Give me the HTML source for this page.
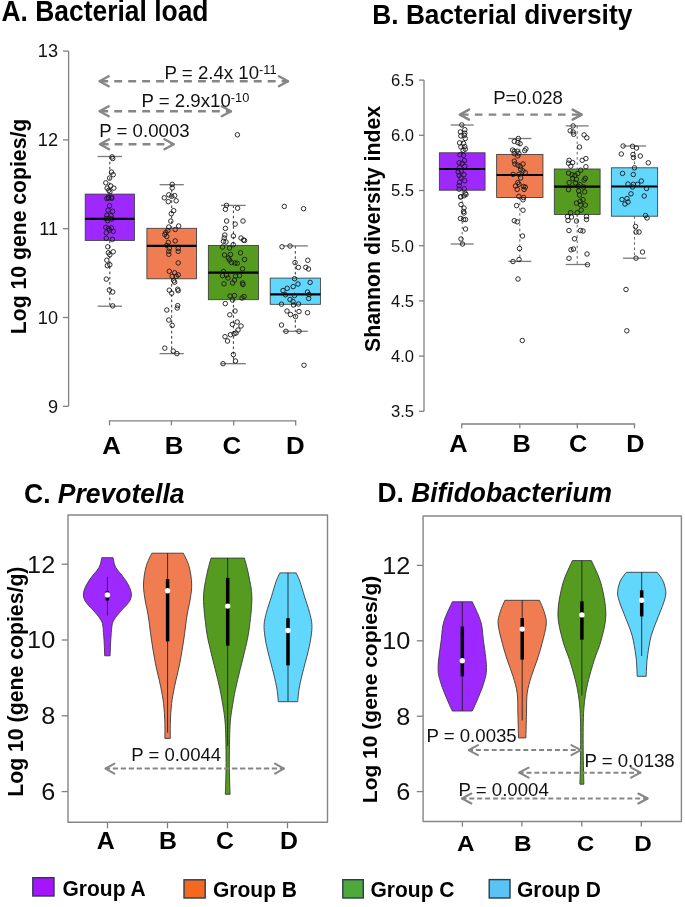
<!DOCTYPE html><html><head><meta charset="utf-8"><style>html,body{margin:0;padding:0;background:#fff;}svg{display:block;will-change:transform;}</style></head><body>
<svg width="685" height="907" viewBox="0 0 685 907" font-family='"Liberation Sans", sans-serif'>
<rect width="685" height="907" fill="#fff"/>
<text transform="translate(1.5,20.7) scale(1,1.08)" font-size="26.5" font-weight="bold" fill="#000" textLength="207" lengthAdjust="spacingAndGlyphs">A. Bacterial load</text>
<line x1="68.6" y1="51.1" x2="68.6" y2="406.3" stroke="#808080" stroke-width="1.3"/>
<line x1="63" y1="51.1" x2="68.6" y2="51.1" stroke="#808080" stroke-width="1.3"/>
<text transform="translate(58,57.3) scale(1.03,1)" font-size="17.6" font-weight="normal" text-anchor="end" fill="#111">13</text>
<line x1="63" y1="139.9" x2="68.6" y2="139.9" stroke="#808080" stroke-width="1.3"/>
<text transform="translate(58,146.1) scale(1.03,1)" font-size="17.6" font-weight="normal" text-anchor="end" fill="#111">12</text>
<line x1="63" y1="228.7" x2="68.6" y2="228.7" stroke="#808080" stroke-width="1.3"/>
<text transform="translate(58,234.9) scale(1.03,1)" font-size="17.6" font-weight="normal" text-anchor="end" fill="#111">11</text>
<line x1="63" y1="317.5" x2="68.6" y2="317.5" stroke="#808080" stroke-width="1.3"/>
<text transform="translate(58,323.7) scale(1.03,1)" font-size="17.6" font-weight="normal" text-anchor="end" fill="#111">10</text>
<line x1="63" y1="406.3" x2="68.6" y2="406.3" stroke="#808080" stroke-width="1.3"/>
<text transform="translate(58,412.5) scale(1.03,1)" font-size="17.6" font-weight="normal" text-anchor="end" fill="#111">9</text>
<text transform="translate(26,334.2) rotate(-90)" font-size="21.2" font-weight="bold" fill="#000">Log 10 gene copies/g</text>
<line x1="109.5" y1="420.9" x2="295.7" y2="420.9" stroke="#808080" stroke-width="1.3"/>
<line x1="109.5" y1="420.3" x2="109.5" y2="425.4" stroke="#808080" stroke-width="1.3"/>
<line x1="171.4" y1="420.3" x2="171.4" y2="425.4" stroke="#808080" stroke-width="1.3"/>
<line x1="233.7" y1="420.3" x2="233.7" y2="425.4" stroke="#808080" stroke-width="1.3"/>
<line x1="295.7" y1="420.3" x2="295.7" y2="425.4" stroke="#808080" stroke-width="1.3"/>
<text transform="translate(111.5,454.2) scale(1.1,1)" font-size="23.5" font-weight="bold" text-anchor="middle" fill="#000">A</text>
<text transform="translate(174,454.2) scale(1.1,1)" font-size="23.5" font-weight="bold" text-anchor="middle" fill="#000">B</text>
<text transform="translate(231.8,454.2) scale(1.1,1)" font-size="23.5" font-weight="bold" text-anchor="middle" fill="#000">C</text>
<text transform="translate(295.4,454.2) scale(1.1,1)" font-size="23.5" font-weight="bold" text-anchor="middle" fill="#000">D</text>
<line x1="109.8" y1="156.5" x2="109.8" y2="194.1" stroke="#333" stroke-width="1.0" stroke-dasharray="2.6 2.6"/>
<line x1="109.8" y1="240.4" x2="109.8" y2="306.2" stroke="#333" stroke-width="1.0" stroke-dasharray="2.6 2.6"/>
<line x1="97.65" y1="156.5" x2="121.95" y2="156.5" stroke="#7a7a7a" stroke-width="1.3"/>
<line x1="97.65" y1="306.2" x2="121.95" y2="306.2" stroke="#7a7a7a" stroke-width="1.3"/>
<rect x="85.2" y="194.1" width="49.2" height="46.3" fill="#9e29ff" stroke="#3a3a3a" stroke-width="0.85"/>
<line x1="85.2" y1="218.9" x2="134.4" y2="218.9" stroke="#000" stroke-width="2.2"/>
<circle cx="112.1" cy="156.9" r="2.25" fill="none" stroke="#1a1a1a" stroke-width="0.9"/>
<circle cx="112.7" cy="158.5" r="2.25" fill="none" stroke="#1a1a1a" stroke-width="0.9"/>
<circle cx="111.5" cy="172.1" r="2.25" fill="none" stroke="#1a1a1a" stroke-width="0.9"/>
<circle cx="113.2" cy="174.7" r="2.25" fill="none" stroke="#1a1a1a" stroke-width="0.9"/>
<circle cx="109.6" cy="178.1" r="2.25" fill="none" stroke="#1a1a1a" stroke-width="0.9"/>
<circle cx="105.8" cy="182.8" r="2.25" fill="none" stroke="#1a1a1a" stroke-width="0.9"/>
<circle cx="110.7" cy="185.9" r="2.25" fill="none" stroke="#1a1a1a" stroke-width="0.9"/>
<circle cx="113.8" cy="188.1" r="2.25" fill="none" stroke="#1a1a1a" stroke-width="0.9"/>
<circle cx="107.1" cy="188.1" r="2.25" fill="none" stroke="#1a1a1a" stroke-width="0.9"/>
<circle cx="108.8" cy="190.3" r="2.25" fill="none" stroke="#1a1a1a" stroke-width="0.9"/>
<circle cx="109.9" cy="191.9" r="2.25" fill="none" stroke="#1a1a1a" stroke-width="0.9"/>
<circle cx="108.2" cy="197.4" r="2.25" fill="none" stroke="#1a1a1a" stroke-width="0.9"/>
<circle cx="111.5" cy="197.4" r="2.25" fill="none" stroke="#1a1a1a" stroke-width="0.9"/>
<circle cx="106.9" cy="198.6" r="2.25" fill="none" stroke="#1a1a1a" stroke-width="0.9"/>
<circle cx="108.8" cy="198.1" r="2.25" fill="none" stroke="#1a1a1a" stroke-width="0.9"/>
<circle cx="111.8" cy="198.3" r="2.25" fill="none" stroke="#1a1a1a" stroke-width="0.9"/>
<circle cx="109.5" cy="205.8" r="2.25" fill="none" stroke="#1a1a1a" stroke-width="0.9"/>
<circle cx="108" cy="210.2" r="2.25" fill="none" stroke="#1a1a1a" stroke-width="0.9"/>
<circle cx="112.6" cy="211.3" r="2.25" fill="none" stroke="#1a1a1a" stroke-width="0.9"/>
<circle cx="106.9" cy="215.2" r="2.25" fill="none" stroke="#1a1a1a" stroke-width="0.9"/>
<circle cx="111" cy="215.7" r="2.25" fill="none" stroke="#1a1a1a" stroke-width="0.9"/>
<circle cx="106" cy="218.5" r="2.25" fill="none" stroke="#1a1a1a" stroke-width="0.9"/>
<circle cx="109.3" cy="218.5" r="2.25" fill="none" stroke="#1a1a1a" stroke-width="0.9"/>
<circle cx="112.1" cy="219" r="2.25" fill="none" stroke="#1a1a1a" stroke-width="0.9"/>
<circle cx="107.7" cy="220.7" r="2.25" fill="none" stroke="#1a1a1a" stroke-width="0.9"/>
<circle cx="105.8" cy="227.3" r="2.25" fill="none" stroke="#1a1a1a" stroke-width="0.9"/>
<circle cx="108.5" cy="228.4" r="2.25" fill="none" stroke="#1a1a1a" stroke-width="0.9"/>
<circle cx="111.5" cy="227.9" r="2.25" fill="none" stroke="#1a1a1a" stroke-width="0.9"/>
<circle cx="109.6" cy="230.1" r="2.25" fill="none" stroke="#1a1a1a" stroke-width="0.9"/>
<circle cx="113.2" cy="231.4" r="2.25" fill="none" stroke="#1a1a1a" stroke-width="0.9"/>
<circle cx="106.3" cy="232.8" r="2.25" fill="none" stroke="#1a1a1a" stroke-width="0.9"/>
<circle cx="106.3" cy="238.3" r="2.25" fill="none" stroke="#1a1a1a" stroke-width="0.9"/>
<circle cx="112.4" cy="239.4" r="2.25" fill="none" stroke="#1a1a1a" stroke-width="0.9"/>
<circle cx="107.8" cy="246.8" r="2.25" fill="none" stroke="#1a1a1a" stroke-width="0.9"/>
<circle cx="113.2" cy="251.8" r="2.25" fill="none" stroke="#1a1a1a" stroke-width="0.9"/>
<circle cx="109.8" cy="254.8" r="2.25" fill="none" stroke="#1a1a1a" stroke-width="0.9"/>
<circle cx="108.3" cy="252.8" r="2.25" fill="none" stroke="#1a1a1a" stroke-width="0.9"/>
<circle cx="106.8" cy="260.2" r="2.25" fill="none" stroke="#1a1a1a" stroke-width="0.9"/>
<circle cx="107.3" cy="265.7" r="2.25" fill="none" stroke="#1a1a1a" stroke-width="0.9"/>
<circle cx="109.8" cy="264.7" r="2.25" fill="none" stroke="#1a1a1a" stroke-width="0.9"/>
<circle cx="106.3" cy="279.1" r="2.25" fill="none" stroke="#1a1a1a" stroke-width="0.9"/>
<circle cx="109.3" cy="290" r="2.25" fill="none" stroke="#1a1a1a" stroke-width="0.9"/>
<circle cx="112.7" cy="292" r="2.25" fill="none" stroke="#1a1a1a" stroke-width="0.9"/>
<circle cx="112.7" cy="305.9" r="2.25" fill="none" stroke="#1a1a1a" stroke-width="0.9"/>
<line x1="171.7" y1="184.7" x2="171.7" y2="228.3" stroke="#333" stroke-width="1.0" stroke-dasharray="2.6 2.6"/>
<line x1="171.7" y1="278.8" x2="171.7" y2="353.6" stroke="#333" stroke-width="1.0" stroke-dasharray="2.6 2.6"/>
<line x1="159.55" y1="184.7" x2="183.85" y2="184.7" stroke="#7a7a7a" stroke-width="1.3"/>
<line x1="159.55" y1="353.6" x2="183.85" y2="353.6" stroke="#7a7a7a" stroke-width="1.3"/>
<rect x="146.9" y="228.3" width="49.6" height="50.5" fill="#f07d52" stroke="#3a3a3a" stroke-width="0.85"/>
<line x1="146.9" y1="245.9" x2="196.5" y2="245.9" stroke="#000" stroke-width="2.2"/>
<circle cx="172.2" cy="184.4" r="2.25" fill="none" stroke="#1a1a1a" stroke-width="0.9"/>
<circle cx="172.2" cy="187.9" r="2.25" fill="none" stroke="#1a1a1a" stroke-width="0.9"/>
<circle cx="168.8" cy="194.8" r="2.25" fill="none" stroke="#1a1a1a" stroke-width="0.9"/>
<circle cx="164.3" cy="197.8" r="2.25" fill="none" stroke="#1a1a1a" stroke-width="0.9"/>
<circle cx="171.7" cy="196.3" r="2.25" fill="none" stroke="#1a1a1a" stroke-width="0.9"/>
<circle cx="174.7" cy="195.6" r="2.25" fill="none" stroke="#1a1a1a" stroke-width="0.9"/>
<circle cx="168.3" cy="201.7" r="2.25" fill="none" stroke="#1a1a1a" stroke-width="0.9"/>
<circle cx="176.2" cy="200.8" r="2.25" fill="none" stroke="#1a1a1a" stroke-width="0.9"/>
<circle cx="173.7" cy="210.7" r="2.25" fill="none" stroke="#1a1a1a" stroke-width="0.9"/>
<circle cx="171.3" cy="213.7" r="2.25" fill="none" stroke="#1a1a1a" stroke-width="0.9"/>
<circle cx="170.8" cy="221.1" r="2.25" fill="none" stroke="#1a1a1a" stroke-width="0.9"/>
<circle cx="168.8" cy="227" r="2.25" fill="none" stroke="#1a1a1a" stroke-width="0.9"/>
<circle cx="178.7" cy="226" r="2.25" fill="none" stroke="#1a1a1a" stroke-width="0.9"/>
<circle cx="175.2" cy="229.5" r="2.25" fill="none" stroke="#1a1a1a" stroke-width="0.9"/>
<circle cx="165.8" cy="232.5" r="2.25" fill="none" stroke="#1a1a1a" stroke-width="0.9"/>
<circle cx="167.8" cy="230.5" r="2.25" fill="none" stroke="#1a1a1a" stroke-width="0.9"/>
<circle cx="164.8" cy="234.5" r="2.25" fill="none" stroke="#1a1a1a" stroke-width="0.9"/>
<circle cx="166.8" cy="236.5" r="2.25" fill="none" stroke="#1a1a1a" stroke-width="0.9"/>
<circle cx="175.2" cy="240.9" r="2.25" fill="none" stroke="#1a1a1a" stroke-width="0.9"/>
<circle cx="168.3" cy="242.4" r="2.25" fill="none" stroke="#1a1a1a" stroke-width="0.9"/>
<circle cx="166.8" cy="245.4" r="2.25" fill="none" stroke="#1a1a1a" stroke-width="0.9"/>
<circle cx="169.3" cy="248.4" r="2.25" fill="none" stroke="#1a1a1a" stroke-width="0.9"/>
<circle cx="178.2" cy="248.4" r="2.25" fill="none" stroke="#1a1a1a" stroke-width="0.9"/>
<circle cx="178.2" cy="251.3" r="2.25" fill="none" stroke="#1a1a1a" stroke-width="0.9"/>
<circle cx="168.8" cy="251.3" r="2.25" fill="none" stroke="#1a1a1a" stroke-width="0.9"/>
<circle cx="168.8" cy="254.3" r="2.25" fill="none" stroke="#1a1a1a" stroke-width="0.9"/>
<circle cx="178.2" cy="262.9" r="2.25" fill="none" stroke="#1a1a1a" stroke-width="0.9"/>
<circle cx="169.3" cy="271.3" r="2.25" fill="none" stroke="#1a1a1a" stroke-width="0.9"/>
<circle cx="174.7" cy="272.8" r="2.25" fill="none" stroke="#1a1a1a" stroke-width="0.9"/>
<circle cx="172.2" cy="276.3" r="2.25" fill="none" stroke="#1a1a1a" stroke-width="0.9"/>
<circle cx="178.2" cy="274.8" r="2.25" fill="none" stroke="#1a1a1a" stroke-width="0.9"/>
<circle cx="176.2" cy="276.3" r="2.25" fill="none" stroke="#1a1a1a" stroke-width="0.9"/>
<circle cx="173.7" cy="280.8" r="2.25" fill="none" stroke="#1a1a1a" stroke-width="0.9"/>
<circle cx="174.7" cy="282.2" r="2.25" fill="none" stroke="#1a1a1a" stroke-width="0.9"/>
<circle cx="169.3" cy="290.2" r="2.25" fill="none" stroke="#1a1a1a" stroke-width="0.9"/>
<circle cx="171.7" cy="293.2" r="2.25" fill="none" stroke="#1a1a1a" stroke-width="0.9"/>
<circle cx="177.7" cy="289.2" r="2.25" fill="none" stroke="#1a1a1a" stroke-width="0.9"/>
<circle cx="178.2" cy="290.7" r="2.25" fill="none" stroke="#1a1a1a" stroke-width="0.9"/>
<circle cx="177.7" cy="305.6" r="2.25" fill="none" stroke="#1a1a1a" stroke-width="0.9"/>
<circle cx="177.2" cy="308" r="2.25" fill="none" stroke="#1a1a1a" stroke-width="0.9"/>
<circle cx="166.8" cy="310" r="2.25" fill="none" stroke="#1a1a1a" stroke-width="0.9"/>
<circle cx="168.8" cy="320" r="2.25" fill="none" stroke="#1a1a1a" stroke-width="0.9"/>
<circle cx="172.2" cy="325.4" r="2.25" fill="none" stroke="#1a1a1a" stroke-width="0.9"/>
<circle cx="164.8" cy="348.1" r="2.25" fill="none" stroke="#1a1a1a" stroke-width="0.9"/>
<circle cx="173.2" cy="351.1" r="2.25" fill="none" stroke="#1a1a1a" stroke-width="0.9"/>
<circle cx="176.9" cy="353.6" r="2.25" fill="none" stroke="#1a1a1a" stroke-width="0.9"/>
<line x1="233.4" y1="205.4" x2="233.4" y2="245.4" stroke="#333" stroke-width="1.0" stroke-dasharray="2.6 2.6"/>
<line x1="233.4" y1="299.7" x2="233.4" y2="363.7" stroke="#333" stroke-width="1.0" stroke-dasharray="2.6 2.6"/>
<line x1="221" y1="205.4" x2="245.8" y2="205.4" stroke="#7a7a7a" stroke-width="1.3"/>
<line x1="221" y1="363.7" x2="245.8" y2="363.7" stroke="#7a7a7a" stroke-width="1.3"/>
<rect x="208.35" y="245.4" width="50.1" height="54.3" fill="#559b1f" stroke="#3a3a3a" stroke-width="0.85"/>
<line x1="208.35" y1="272.7" x2="258.45" y2="272.7" stroke="#000" stroke-width="2.2"/>
<circle cx="237.4" cy="134.8" r="2.25" fill="none" stroke="#1a1a1a" stroke-width="0.9"/>
<circle cx="226.5" cy="205.3" r="2.25" fill="none" stroke="#1a1a1a" stroke-width="0.9"/>
<circle cx="225.4" cy="209.3" r="2.25" fill="none" stroke="#1a1a1a" stroke-width="0.9"/>
<circle cx="237.6" cy="208.2" r="2.25" fill="none" stroke="#1a1a1a" stroke-width="0.9"/>
<circle cx="226.6" cy="221" r="2.25" fill="none" stroke="#1a1a1a" stroke-width="0.9"/>
<circle cx="243" cy="221" r="2.25" fill="none" stroke="#1a1a1a" stroke-width="0.9"/>
<circle cx="235.2" cy="224.1" r="2.25" fill="none" stroke="#1a1a1a" stroke-width="0.9"/>
<circle cx="225.4" cy="228.4" r="2.25" fill="none" stroke="#1a1a1a" stroke-width="0.9"/>
<circle cx="233.4" cy="236" r="2.25" fill="none" stroke="#1a1a1a" stroke-width="0.9"/>
<circle cx="224.8" cy="235" r="2.25" fill="none" stroke="#1a1a1a" stroke-width="0.9"/>
<circle cx="224.2" cy="238" r="2.25" fill="none" stroke="#1a1a1a" stroke-width="0.9"/>
<circle cx="241" cy="238" r="2.25" fill="none" stroke="#1a1a1a" stroke-width="0.9"/>
<circle cx="243.5" cy="240" r="2.25" fill="none" stroke="#1a1a1a" stroke-width="0.9"/>
<circle cx="244.5" cy="240.5" r="2.25" fill="none" stroke="#1a1a1a" stroke-width="0.9"/>
<circle cx="223.5" cy="241.3" r="2.25" fill="none" stroke="#1a1a1a" stroke-width="0.9"/>
<circle cx="226" cy="242" r="2.25" fill="none" stroke="#1a1a1a" stroke-width="0.9"/>
<circle cx="233.2" cy="244.7" r="2.25" fill="none" stroke="#1a1a1a" stroke-width="0.9"/>
<circle cx="222.5" cy="247" r="2.25" fill="none" stroke="#1a1a1a" stroke-width="0.9"/>
<circle cx="229.5" cy="248" r="2.25" fill="none" stroke="#1a1a1a" stroke-width="0.9"/>
<circle cx="224.5" cy="255" r="2.25" fill="none" stroke="#1a1a1a" stroke-width="0.9"/>
<circle cx="230.5" cy="254.5" r="2.25" fill="none" stroke="#1a1a1a" stroke-width="0.9"/>
<circle cx="240.5" cy="252.8" r="2.25" fill="none" stroke="#1a1a1a" stroke-width="0.9"/>
<circle cx="228.5" cy="258" r="2.25" fill="none" stroke="#1a1a1a" stroke-width="0.9"/>
<circle cx="229.5" cy="260" r="2.25" fill="none" stroke="#1a1a1a" stroke-width="0.9"/>
<circle cx="231.5" cy="262.5" r="2.25" fill="none" stroke="#1a1a1a" stroke-width="0.9"/>
<circle cx="235" cy="263" r="2.25" fill="none" stroke="#1a1a1a" stroke-width="0.9"/>
<circle cx="237.2" cy="263.3" r="2.25" fill="none" stroke="#1a1a1a" stroke-width="0.9"/>
<circle cx="244.5" cy="259.5" r="2.25" fill="none" stroke="#1a1a1a" stroke-width="0.9"/>
<circle cx="242.5" cy="268.8" r="2.25" fill="none" stroke="#1a1a1a" stroke-width="0.9"/>
<circle cx="223.5" cy="271.5" r="2.25" fill="none" stroke="#1a1a1a" stroke-width="0.9"/>
<circle cx="222.5" cy="275.6" r="2.25" fill="none" stroke="#1a1a1a" stroke-width="0.9"/>
<circle cx="226.5" cy="275" r="2.25" fill="none" stroke="#1a1a1a" stroke-width="0.9"/>
<circle cx="228" cy="278" r="2.25" fill="none" stroke="#1a1a1a" stroke-width="0.9"/>
<circle cx="235.5" cy="276" r="2.25" fill="none" stroke="#1a1a1a" stroke-width="0.9"/>
<circle cx="239.5" cy="275.7" r="2.25" fill="none" stroke="#1a1a1a" stroke-width="0.9"/>
<circle cx="234.5" cy="280" r="2.25" fill="none" stroke="#1a1a1a" stroke-width="0.9"/>
<circle cx="232.5" cy="283" r="2.25" fill="none" stroke="#1a1a1a" stroke-width="0.9"/>
<circle cx="224" cy="283.8" r="2.25" fill="none" stroke="#1a1a1a" stroke-width="0.9"/>
<circle cx="242.5" cy="283" r="2.25" fill="none" stroke="#1a1a1a" stroke-width="0.9"/>
<circle cx="243" cy="284.5" r="2.25" fill="none" stroke="#1a1a1a" stroke-width="0.9"/>
<circle cx="230" cy="296" r="2.25" fill="none" stroke="#1a1a1a" stroke-width="0.9"/>
<circle cx="234.5" cy="295.5" r="2.25" fill="none" stroke="#1a1a1a" stroke-width="0.9"/>
<circle cx="242" cy="298" r="2.25" fill="none" stroke="#1a1a1a" stroke-width="0.9"/>
<circle cx="244" cy="296.5" r="2.25" fill="none" stroke="#1a1a1a" stroke-width="0.9"/>
<circle cx="232.5" cy="300" r="2.25" fill="none" stroke="#1a1a1a" stroke-width="0.9"/>
<circle cx="225.3" cy="303.6" r="2.25" fill="none" stroke="#1a1a1a" stroke-width="0.9"/>
<circle cx="235" cy="311" r="2.25" fill="none" stroke="#1a1a1a" stroke-width="0.9"/>
<circle cx="229.8" cy="314.8" r="2.25" fill="none" stroke="#1a1a1a" stroke-width="0.9"/>
<circle cx="232.3" cy="324.4" r="2.25" fill="none" stroke="#1a1a1a" stroke-width="0.9"/>
<circle cx="237.2" cy="322" r="2.25" fill="none" stroke="#1a1a1a" stroke-width="0.9"/>
<circle cx="241" cy="326" r="2.25" fill="none" stroke="#1a1a1a" stroke-width="0.9"/>
<circle cx="238" cy="330" r="2.25" fill="none" stroke="#1a1a1a" stroke-width="0.9"/>
<circle cx="236" cy="333" r="2.25" fill="none" stroke="#1a1a1a" stroke-width="0.9"/>
<circle cx="234" cy="333.7" r="2.25" fill="none" stroke="#1a1a1a" stroke-width="0.9"/>
<circle cx="230.5" cy="334.7" r="2.25" fill="none" stroke="#1a1a1a" stroke-width="0.9"/>
<circle cx="225" cy="336.7" r="2.25" fill="none" stroke="#1a1a1a" stroke-width="0.9"/>
<circle cx="227.5" cy="341" r="2.25" fill="none" stroke="#1a1a1a" stroke-width="0.9"/>
<circle cx="233.4" cy="354.6" r="2.25" fill="none" stroke="#1a1a1a" stroke-width="0.9"/>
<circle cx="235.5" cy="361" r="2.25" fill="none" stroke="#1a1a1a" stroke-width="0.9"/>
<circle cx="223" cy="363.7" r="2.25" fill="none" stroke="#1a1a1a" stroke-width="0.9"/>
<line x1="295.3" y1="245.9" x2="295.3" y2="278.1" stroke="#333" stroke-width="1.0" stroke-dasharray="2.6 2.6"/>
<line x1="295.3" y1="304.3" x2="295.3" y2="331.3" stroke="#333" stroke-width="1.0" stroke-dasharray="2.6 2.6"/>
<line x1="282.8" y1="245.9" x2="307.8" y2="245.9" stroke="#7a7a7a" stroke-width="1.3"/>
<line x1="282.8" y1="331.3" x2="307.8" y2="331.3" stroke="#7a7a7a" stroke-width="1.3"/>
<rect x="270.2" y="278.1" width="50.2" height="26.2" fill="#61d7fe" stroke="#3a3a3a" stroke-width="0.85"/>
<line x1="270.2" y1="294.3" x2="320.4" y2="294.3" stroke="#000" stroke-width="2.2"/>
<circle cx="284.3" cy="206.4" r="2.25" fill="none" stroke="#1a1a1a" stroke-width="0.9"/>
<circle cx="303.6" cy="208.7" r="2.25" fill="none" stroke="#1a1a1a" stroke-width="0.9"/>
<circle cx="282" cy="246.8" r="2.25" fill="none" stroke="#1a1a1a" stroke-width="0.9"/>
<circle cx="290" cy="246" r="2.25" fill="none" stroke="#1a1a1a" stroke-width="0.9"/>
<circle cx="295" cy="262.6" r="2.25" fill="none" stroke="#1a1a1a" stroke-width="0.9"/>
<circle cx="298.4" cy="267.4" r="2.25" fill="none" stroke="#1a1a1a" stroke-width="0.9"/>
<circle cx="307.8" cy="260.3" r="2.25" fill="none" stroke="#1a1a1a" stroke-width="0.9"/>
<circle cx="305.8" cy="267.3" r="2.25" fill="none" stroke="#1a1a1a" stroke-width="0.9"/>
<circle cx="308.5" cy="269" r="2.25" fill="none" stroke="#1a1a1a" stroke-width="0.9"/>
<circle cx="294.6" cy="278.7" r="2.25" fill="none" stroke="#1a1a1a" stroke-width="0.9"/>
<circle cx="310.1" cy="282.4" r="2.25" fill="none" stroke="#1a1a1a" stroke-width="0.9"/>
<circle cx="298" cy="284" r="2.25" fill="none" stroke="#1a1a1a" stroke-width="0.9"/>
<circle cx="293.2" cy="286.6" r="2.25" fill="none" stroke="#1a1a1a" stroke-width="0.9"/>
<circle cx="287.2" cy="288.3" r="2.25" fill="none" stroke="#1a1a1a" stroke-width="0.9"/>
<circle cx="283" cy="290.5" r="2.25" fill="none" stroke="#1a1a1a" stroke-width="0.9"/>
<circle cx="307.5" cy="292" r="2.25" fill="none" stroke="#1a1a1a" stroke-width="0.9"/>
<circle cx="285.5" cy="294.8" r="2.25" fill="none" stroke="#1a1a1a" stroke-width="0.9"/>
<circle cx="294.5" cy="295.5" r="2.25" fill="none" stroke="#1a1a1a" stroke-width="0.9"/>
<circle cx="309" cy="294.5" r="2.25" fill="none" stroke="#1a1a1a" stroke-width="0.9"/>
<circle cx="290" cy="299.5" r="2.25" fill="none" stroke="#1a1a1a" stroke-width="0.9"/>
<circle cx="308.7" cy="298.5" r="2.25" fill="none" stroke="#1a1a1a" stroke-width="0.9"/>
<circle cx="281.5" cy="304.2" r="2.25" fill="none" stroke="#1a1a1a" stroke-width="0.9"/>
<circle cx="298.5" cy="304" r="2.25" fill="none" stroke="#1a1a1a" stroke-width="0.9"/>
<circle cx="293.5" cy="305" r="2.25" fill="none" stroke="#1a1a1a" stroke-width="0.9"/>
<circle cx="287" cy="311" r="2.25" fill="none" stroke="#1a1a1a" stroke-width="0.9"/>
<circle cx="299" cy="311.5" r="2.25" fill="none" stroke="#1a1a1a" stroke-width="0.9"/>
<circle cx="307.5" cy="312.7" r="2.25" fill="none" stroke="#1a1a1a" stroke-width="0.9"/>
<circle cx="290.5" cy="314.5" r="2.25" fill="none" stroke="#1a1a1a" stroke-width="0.9"/>
<circle cx="295.5" cy="316.5" r="2.25" fill="none" stroke="#1a1a1a" stroke-width="0.9"/>
<circle cx="281.5" cy="325" r="2.25" fill="none" stroke="#1a1a1a" stroke-width="0.9"/>
<circle cx="286" cy="331.3" r="2.25" fill="none" stroke="#1a1a1a" stroke-width="0.9"/>
<circle cx="299" cy="331.3" r="2.25" fill="none" stroke="#1a1a1a" stroke-width="0.9"/>
<circle cx="304" cy="365.2" r="2.25" fill="none" stroke="#1a1a1a" stroke-width="0.9"/>
<circle cx="293" cy="301.5" r="2.25" fill="none" stroke="#1a1a1a" stroke-width="0.9"/>
<line x1="98.9" y1="81.2" x2="288.7" y2="81.2" stroke="#868686" stroke-width="2.4" stroke-dasharray="7.9 6.05" stroke-dashoffset="-1.4"/>
<polyline points="108.7,76.2 99.5,81.2 108.7,86.2" fill="none" stroke="#868686" stroke-width="2.4" stroke-linejoin="round" stroke-linecap="round"/>
<polyline points="278.9,76.2 288.1,81.2 278.9,86.2" fill="none" stroke="#868686" stroke-width="2.4" stroke-linejoin="round" stroke-linecap="round"/>
<line x1="98.9" y1="111.2" x2="231.6" y2="111.2" stroke="#868686" stroke-width="2.4" stroke-dasharray="7.9 6.05" stroke-dashoffset="-1.4"/>
<polyline points="108.7,106.2 99.5,111.2 108.7,116.2" fill="none" stroke="#868686" stroke-width="2.4" stroke-linejoin="round" stroke-linecap="round"/>
<polyline points="221.8,106.2 231,111.2 221.8,116.2" fill="none" stroke="#868686" stroke-width="2.4" stroke-linejoin="round" stroke-linecap="round"/>
<line x1="99.3" y1="144.3" x2="174.3" y2="144.3" stroke="#868686" stroke-width="2.4" stroke-dasharray="7.9 6.05" stroke-dashoffset="-1.4"/>
<polyline points="109.1,139.3 99.9,144.3 109.1,149.3" fill="none" stroke="#868686" stroke-width="2.4" stroke-linejoin="round" stroke-linecap="round"/>
<polyline points="164.5,139.3 173.7,144.3 164.5,149.3" fill="none" stroke="#868686" stroke-width="2.4" stroke-linejoin="round" stroke-linecap="round"/>
<text transform="translate(164.6,79.1) scale(1.025,1)" font-size="18.2" fill="#111">P = 2.4x 10<tspan font-size="12.5" dy="-5.1">-11</tspan></text>
<text transform="translate(141.5,106.9) scale(1.025,1)" font-size="18.2" fill="#111">P = 2.9x10<tspan font-size="12.5" dy="-5.1">-10</tspan></text>
<text transform="translate(99.3,137) scale(1.025,1)" font-size="18.2" font-weight="normal" text-anchor="start" fill="#111">P = 0.0003</text>
<text transform="translate(372.3,23.7) scale(1,1.07)" font-size="26.5" font-weight="bold" fill="#000" textLength="260" lengthAdjust="spacingAndGlyphs">B. Bacterial diversity</text>
<line x1="424" y1="80.1" x2="424" y2="411.3" stroke="#808080" stroke-width="1.3"/>
<line x1="419" y1="80.1" x2="424" y2="80.1" stroke="#808080" stroke-width="1.3"/>
<text x="414" y="85.9" font-size="16.6" font-weight="normal" text-anchor="end" fill="#111">6.5</text>
<line x1="419" y1="135.3" x2="424" y2="135.3" stroke="#808080" stroke-width="1.3"/>
<text x="414" y="141.1" font-size="16.6" font-weight="normal" text-anchor="end" fill="#111">6.0</text>
<line x1="419" y1="190.5" x2="424" y2="190.5" stroke="#808080" stroke-width="1.3"/>
<text x="414" y="196.3" font-size="16.6" font-weight="normal" text-anchor="end" fill="#111">5.5</text>
<line x1="419" y1="245.7" x2="424" y2="245.7" stroke="#808080" stroke-width="1.3"/>
<text x="414" y="251.5" font-size="16.6" font-weight="normal" text-anchor="end" fill="#111">5.0</text>
<line x1="419" y1="300.9" x2="424" y2="300.9" stroke="#808080" stroke-width="1.3"/>
<text x="414" y="306.7" font-size="16.6" font-weight="normal" text-anchor="end" fill="#111">4.5</text>
<line x1="419" y1="356.1" x2="424" y2="356.1" stroke="#808080" stroke-width="1.3"/>
<text x="414" y="361.9" font-size="16.6" font-weight="normal" text-anchor="end" fill="#111">4.0</text>
<line x1="419" y1="411.3" x2="424" y2="411.3" stroke="#808080" stroke-width="1.3"/>
<text x="414" y="417.1" font-size="16.6" font-weight="normal" text-anchor="end" fill="#111">3.5</text>
<text transform="translate(379.5,352) rotate(-90)" font-size="21.3" font-weight="bold" fill="#000">Shannon diversity index</text>
<line x1="461.7" y1="424" x2="634.5" y2="424" stroke="#808080" stroke-width="1.3"/>
<line x1="461.7" y1="423.4" x2="461.7" y2="428.3" stroke="#808080" stroke-width="1.3"/>
<line x1="519.8" y1="423.4" x2="519.8" y2="428.3" stroke="#808080" stroke-width="1.3"/>
<line x1="577.3" y1="423.4" x2="577.3" y2="428.3" stroke="#808080" stroke-width="1.3"/>
<line x1="634.5" y1="423.4" x2="634.5" y2="428.3" stroke="#808080" stroke-width="1.3"/>
<text transform="translate(458.3,452) scale(1.1,1)" font-size="23" font-weight="bold" text-anchor="middle" fill="#000">A</text>
<text transform="translate(521.6,452) scale(1.1,1)" font-size="23" font-weight="bold" text-anchor="middle" fill="#000">B</text>
<text transform="translate(578,452) scale(1.1,1)" font-size="23" font-weight="bold" text-anchor="middle" fill="#000">C</text>
<text transform="translate(635.3,452) scale(1.1,1)" font-size="23" font-weight="bold" text-anchor="middle" fill="#000">D</text>
<line x1="462.2" y1="125" x2="462.2" y2="152.8" stroke="#555" stroke-width="0.9" stroke-dasharray="2.6 2.6"/>
<line x1="462.2" y1="190.2" x2="462.2" y2="244" stroke="#555" stroke-width="0.9" stroke-dasharray="2.6 2.6"/>
<line x1="450.7" y1="125" x2="473.7" y2="125" stroke="#7a7a7a" stroke-width="1.3"/>
<line x1="450.7" y1="244" x2="473.7" y2="244" stroke="#7a7a7a" stroke-width="1.3"/>
<rect x="439.35" y="152.8" width="45.7" height="37.4" fill="#9e29ff" stroke="#3a3a3a" stroke-width="0.85"/>
<line x1="439.35" y1="169" x2="485.05" y2="169" stroke="#000" stroke-width="2.2"/>
<circle cx="461.8" cy="124.9" r="2.25" fill="none" stroke="#1a1a1a" stroke-width="0.9"/>
<circle cx="464.8" cy="129.7" r="2.25" fill="none" stroke="#1a1a1a" stroke-width="0.9"/>
<circle cx="460.4" cy="131.9" r="2.25" fill="none" stroke="#1a1a1a" stroke-width="0.9"/>
<circle cx="464.8" cy="133.2" r="2.25" fill="none" stroke="#1a1a1a" stroke-width="0.9"/>
<circle cx="460.9" cy="135.9" r="2.25" fill="none" stroke="#1a1a1a" stroke-width="0.9"/>
<circle cx="464.4" cy="135.4" r="2.25" fill="none" stroke="#1a1a1a" stroke-width="0.9"/>
<circle cx="465.3" cy="138.5" r="2.25" fill="none" stroke="#1a1a1a" stroke-width="0.9"/>
<circle cx="459.6" cy="142.9" r="2.25" fill="none" stroke="#1a1a1a" stroke-width="0.9"/>
<circle cx="463.5" cy="143.4" r="2.25" fill="none" stroke="#1a1a1a" stroke-width="0.9"/>
<circle cx="460.9" cy="146.9" r="2.25" fill="none" stroke="#1a1a1a" stroke-width="0.9"/>
<circle cx="464.8" cy="146.5" r="2.25" fill="none" stroke="#1a1a1a" stroke-width="0.9"/>
<circle cx="465.3" cy="149.1" r="2.25" fill="none" stroke="#1a1a1a" stroke-width="0.9"/>
<circle cx="463.1" cy="150.4" r="2.25" fill="none" stroke="#1a1a1a" stroke-width="0.9"/>
<circle cx="460" cy="154.8" r="2.25" fill="none" stroke="#1a1a1a" stroke-width="0.9"/>
<circle cx="463.5" cy="155.3" r="2.25" fill="none" stroke="#1a1a1a" stroke-width="0.9"/>
<circle cx="464.4" cy="160.6" r="2.25" fill="none" stroke="#1a1a1a" stroke-width="0.9"/>
<circle cx="459.1" cy="162.8" r="2.25" fill="none" stroke="#1a1a1a" stroke-width="0.9"/>
<circle cx="462.2" cy="163.2" r="2.25" fill="none" stroke="#1a1a1a" stroke-width="0.9"/>
<circle cx="464.8" cy="166.3" r="2.25" fill="none" stroke="#1a1a1a" stroke-width="0.9"/>
<circle cx="459.6" cy="167.6" r="2.25" fill="none" stroke="#1a1a1a" stroke-width="0.9"/>
<circle cx="458.2" cy="172" r="2.25" fill="none" stroke="#1a1a1a" stroke-width="0.9"/>
<circle cx="461.3" cy="171.1" r="2.25" fill="none" stroke="#1a1a1a" stroke-width="0.9"/>
<circle cx="464" cy="174.7" r="2.25" fill="none" stroke="#1a1a1a" stroke-width="0.9"/>
<circle cx="459.1" cy="175.6" r="2.25" fill="none" stroke="#1a1a1a" stroke-width="0.9"/>
<circle cx="460.9" cy="177.8" r="2.25" fill="none" stroke="#1a1a1a" stroke-width="0.9"/>
<circle cx="464.8" cy="180.8" r="2.25" fill="none" stroke="#1a1a1a" stroke-width="0.9"/>
<circle cx="459.6" cy="182.2" r="2.25" fill="none" stroke="#1a1a1a" stroke-width="0.9"/>
<circle cx="459.1" cy="185.7" r="2.25" fill="none" stroke="#1a1a1a" stroke-width="0.9"/>
<circle cx="459.1" cy="189.2" r="2.25" fill="none" stroke="#1a1a1a" stroke-width="0.9"/>
<circle cx="464.4" cy="188.8" r="2.25" fill="none" stroke="#1a1a1a" stroke-width="0.9"/>
<circle cx="465.3" cy="193.2" r="2.25" fill="none" stroke="#1a1a1a" stroke-width="0.9"/>
<circle cx="464" cy="195.8" r="2.25" fill="none" stroke="#1a1a1a" stroke-width="0.9"/>
<circle cx="460.9" cy="196.7" r="2.25" fill="none" stroke="#1a1a1a" stroke-width="0.9"/>
<circle cx="466" cy="194.5" r="2.25" fill="none" stroke="#1a1a1a" stroke-width="0.9"/>
<circle cx="460.5" cy="197" r="2.25" fill="none" stroke="#1a1a1a" stroke-width="0.9"/>
<circle cx="461" cy="204.5" r="2.25" fill="none" stroke="#1a1a1a" stroke-width="0.9"/>
<circle cx="464" cy="208" r="2.25" fill="none" stroke="#1a1a1a" stroke-width="0.9"/>
<circle cx="463.5" cy="211.5" r="2.25" fill="none" stroke="#1a1a1a" stroke-width="0.9"/>
<circle cx="464" cy="213" r="2.25" fill="none" stroke="#1a1a1a" stroke-width="0.9"/>
<circle cx="460.5" cy="218.5" r="2.25" fill="none" stroke="#1a1a1a" stroke-width="0.9"/>
<circle cx="463.5" cy="219.5" r="2.25" fill="none" stroke="#1a1a1a" stroke-width="0.9"/>
<circle cx="465.5" cy="219.5" r="2.25" fill="none" stroke="#1a1a1a" stroke-width="0.9"/>
<circle cx="465.5" cy="229" r="2.25" fill="none" stroke="#1a1a1a" stroke-width="0.9"/>
<circle cx="461" cy="239" r="2.25" fill="none" stroke="#1a1a1a" stroke-width="0.9"/>
<circle cx="462.5" cy="244" r="2.25" fill="none" stroke="#1a1a1a" stroke-width="0.9"/>
<line x1="519.8" y1="138.5" x2="519.8" y2="154.4" stroke="#555" stroke-width="0.9" stroke-dasharray="2.6 2.6"/>
<line x1="519.8" y1="197.5" x2="519.8" y2="261.4" stroke="#555" stroke-width="0.9" stroke-dasharray="2.6 2.6"/>
<line x1="508.25" y1="138.5" x2="531.35" y2="138.5" stroke="#7a7a7a" stroke-width="1.3"/>
<line x1="508.25" y1="261.4" x2="531.35" y2="261.4" stroke="#7a7a7a" stroke-width="1.3"/>
<rect x="496.65" y="154.4" width="46.3" height="43.1" fill="#f07d52" stroke="#3a3a3a" stroke-width="0.85"/>
<line x1="496.65" y1="175" x2="542.95" y2="175" stroke="#000" stroke-width="2.2"/>
<circle cx="518.3" cy="138.5" r="2.25" fill="none" stroke="#1a1a1a" stroke-width="0.9"/>
<circle cx="514.3" cy="141.4" r="2.25" fill="none" stroke="#1a1a1a" stroke-width="0.9"/>
<circle cx="517.8" cy="142.6" r="2.25" fill="none" stroke="#1a1a1a" stroke-width="0.9"/>
<circle cx="520.1" cy="143.7" r="2.25" fill="none" stroke="#1a1a1a" stroke-width="0.9"/>
<circle cx="525.9" cy="148.9" r="2.25" fill="none" stroke="#1a1a1a" stroke-width="0.9"/>
<circle cx="524.7" cy="150.7" r="2.25" fill="none" stroke="#1a1a1a" stroke-width="0.9"/>
<circle cx="512.6" cy="150.1" r="2.25" fill="none" stroke="#1a1a1a" stroke-width="0.9"/>
<circle cx="514.3" cy="151.2" r="2.25" fill="none" stroke="#1a1a1a" stroke-width="0.9"/>
<circle cx="517.2" cy="151.2" r="2.25" fill="none" stroke="#1a1a1a" stroke-width="0.9"/>
<circle cx="514.3" cy="153.6" r="2.25" fill="none" stroke="#1a1a1a" stroke-width="0.9"/>
<circle cx="518.9" cy="153.6" r="2.25" fill="none" stroke="#1a1a1a" stroke-width="0.9"/>
<circle cx="517.8" cy="155.9" r="2.25" fill="none" stroke="#1a1a1a" stroke-width="0.9"/>
<circle cx="514.3" cy="161.1" r="2.25" fill="none" stroke="#1a1a1a" stroke-width="0.9"/>
<circle cx="514.9" cy="164" r="2.25" fill="none" stroke="#1a1a1a" stroke-width="0.9"/>
<circle cx="517.8" cy="165.1" r="2.25" fill="none" stroke="#1a1a1a" stroke-width="0.9"/>
<circle cx="523" cy="164" r="2.25" fill="none" stroke="#1a1a1a" stroke-width="0.9"/>
<circle cx="520.1" cy="166.3" r="2.25" fill="none" stroke="#1a1a1a" stroke-width="0.9"/>
<circle cx="520.7" cy="169.2" r="2.25" fill="none" stroke="#1a1a1a" stroke-width="0.9"/>
<circle cx="523" cy="170.9" r="2.25" fill="none" stroke="#1a1a1a" stroke-width="0.9"/>
<circle cx="525.3" cy="172.6" r="2.25" fill="none" stroke="#1a1a1a" stroke-width="0.9"/>
<circle cx="513.1" cy="174.4" r="2.25" fill="none" stroke="#1a1a1a" stroke-width="0.9"/>
<circle cx="518.9" cy="174.4" r="2.25" fill="none" stroke="#1a1a1a" stroke-width="0.9"/>
<circle cx="520.7" cy="177.9" r="2.25" fill="none" stroke="#1a1a1a" stroke-width="0.9"/>
<circle cx="517.8" cy="182.5" r="2.25" fill="none" stroke="#1a1a1a" stroke-width="0.9"/>
<circle cx="518.9" cy="184.2" r="2.25" fill="none" stroke="#1a1a1a" stroke-width="0.9"/>
<circle cx="515.5" cy="186" r="2.25" fill="none" stroke="#1a1a1a" stroke-width="0.9"/>
<circle cx="523.6" cy="186.5" r="2.25" fill="none" stroke="#1a1a1a" stroke-width="0.9"/>
<circle cx="525.3" cy="187.1" r="2.25" fill="none" stroke="#1a1a1a" stroke-width="0.9"/>
<circle cx="517.2" cy="189.4" r="2.25" fill="none" stroke="#1a1a1a" stroke-width="0.9"/>
<circle cx="524.1" cy="189.4" r="2.25" fill="none" stroke="#1a1a1a" stroke-width="0.9"/>
<circle cx="518.9" cy="196.4" r="2.25" fill="none" stroke="#1a1a1a" stroke-width="0.9"/>
<circle cx="523.6" cy="197.5" r="2.25" fill="none" stroke="#1a1a1a" stroke-width="0.9"/>
<circle cx="523" cy="199.8" r="2.25" fill="none" stroke="#1a1a1a" stroke-width="0.9"/>
<circle cx="516.6" cy="205.6" r="2.25" fill="none" stroke="#1a1a1a" stroke-width="0.9"/>
<circle cx="523" cy="210.2" r="2.25" fill="none" stroke="#1a1a1a" stroke-width="0.9"/>
<circle cx="514.3" cy="220.7" r="2.25" fill="none" stroke="#1a1a1a" stroke-width="0.9"/>
<circle cx="517.2" cy="221.8" r="2.25" fill="none" stroke="#1a1a1a" stroke-width="0.9"/>
<circle cx="522.5" cy="236" r="2.25" fill="none" stroke="#1a1a1a" stroke-width="0.9"/>
<circle cx="519.5" cy="248.5" r="2.25" fill="none" stroke="#1a1a1a" stroke-width="0.9"/>
<circle cx="519" cy="259.5" r="2.25" fill="none" stroke="#1a1a1a" stroke-width="0.9"/>
<circle cx="513" cy="261.5" r="2.25" fill="none" stroke="#1a1a1a" stroke-width="0.9"/>
<circle cx="518" cy="279" r="2.25" fill="none" stroke="#1a1a1a" stroke-width="0.9"/>
<circle cx="522.3" cy="340.5" r="2.25" fill="none" stroke="#1a1a1a" stroke-width="0.9"/>
<line x1="577.2" y1="125.9" x2="577.2" y2="169" stroke="#555" stroke-width="0.9" stroke-dasharray="2.6 2.6"/>
<line x1="577.2" y1="214.4" x2="577.2" y2="264.5" stroke="#555" stroke-width="0.9" stroke-dasharray="2.6 2.6"/>
<line x1="565.7" y1="125.9" x2="588.7" y2="125.9" stroke="#7a7a7a" stroke-width="1.3"/>
<line x1="565.7" y1="264.5" x2="588.7" y2="264.5" stroke="#7a7a7a" stroke-width="1.3"/>
<rect x="554.3" y="169" width="45.8" height="45.4" fill="#559b1f" stroke="#3a3a3a" stroke-width="0.85"/>
<line x1="554.3" y1="186.7" x2="600.1" y2="186.7" stroke="#000" stroke-width="2.2"/>
<circle cx="573.1" cy="125.9" r="2.25" fill="none" stroke="#1a1a1a" stroke-width="0.9"/>
<circle cx="570.2" cy="130.8" r="2.25" fill="none" stroke="#1a1a1a" stroke-width="0.9"/>
<circle cx="573.1" cy="132" r="2.25" fill="none" stroke="#1a1a1a" stroke-width="0.9"/>
<circle cx="573.7" cy="134.3" r="2.25" fill="none" stroke="#1a1a1a" stroke-width="0.9"/>
<circle cx="584.1" cy="134.9" r="2.25" fill="none" stroke="#1a1a1a" stroke-width="0.9"/>
<circle cx="586.8" cy="137.8" r="2.25" fill="none" stroke="#1a1a1a" stroke-width="0.9"/>
<circle cx="579.5" cy="147" r="2.25" fill="none" stroke="#1a1a1a" stroke-width="0.9"/>
<circle cx="569.1" cy="160.3" r="2.25" fill="none" stroke="#1a1a1a" stroke-width="0.9"/>
<circle cx="572.6" cy="162.6" r="2.25" fill="none" stroke="#1a1a1a" stroke-width="0.9"/>
<circle cx="568.5" cy="163.2" r="2.25" fill="none" stroke="#1a1a1a" stroke-width="0.9"/>
<circle cx="582.2" cy="160.3" r="2.25" fill="none" stroke="#1a1a1a" stroke-width="0.9"/>
<circle cx="585.9" cy="158.6" r="2.25" fill="none" stroke="#1a1a1a" stroke-width="0.9"/>
<circle cx="570.8" cy="166.1" r="2.25" fill="none" stroke="#1a1a1a" stroke-width="0.9"/>
<circle cx="585.9" cy="166.7" r="2.25" fill="none" stroke="#1a1a1a" stroke-width="0.9"/>
<circle cx="580.7" cy="170.2" r="2.25" fill="none" stroke="#1a1a1a" stroke-width="0.9"/>
<circle cx="568.5" cy="173.1" r="2.25" fill="none" stroke="#1a1a1a" stroke-width="0.9"/>
<circle cx="572" cy="174.8" r="2.25" fill="none" stroke="#1a1a1a" stroke-width="0.9"/>
<circle cx="574.9" cy="175.4" r="2.25" fill="none" stroke="#1a1a1a" stroke-width="0.9"/>
<circle cx="577.8" cy="173.6" r="2.25" fill="none" stroke="#1a1a1a" stroke-width="0.9"/>
<circle cx="585.3" cy="178.3" r="2.25" fill="none" stroke="#1a1a1a" stroke-width="0.9"/>
<circle cx="584.1" cy="180" r="2.25" fill="none" stroke="#1a1a1a" stroke-width="0.9"/>
<circle cx="572.6" cy="178.3" r="2.25" fill="none" stroke="#1a1a1a" stroke-width="0.9"/>
<circle cx="576.4" cy="179.4" r="2.25" fill="none" stroke="#1a1a1a" stroke-width="0.9"/>
<circle cx="569.1" cy="182.7" r="2.25" fill="none" stroke="#1a1a1a" stroke-width="0.9"/>
<circle cx="575.5" cy="182.9" r="2.25" fill="none" stroke="#1a1a1a" stroke-width="0.9"/>
<circle cx="579.9" cy="184.6" r="2.25" fill="none" stroke="#1a1a1a" stroke-width="0.9"/>
<circle cx="568.5" cy="189.6" r="2.25" fill="none" stroke="#1a1a1a" stroke-width="0.9"/>
<circle cx="578.3" cy="186.4" r="2.25" fill="none" stroke="#1a1a1a" stroke-width="0.9"/>
<circle cx="583.6" cy="186.9" r="2.25" fill="none" stroke="#1a1a1a" stroke-width="0.9"/>
<circle cx="578.7" cy="191" r="2.25" fill="none" stroke="#1a1a1a" stroke-width="0.9"/>
<circle cx="584.7" cy="191.9" r="2.25" fill="none" stroke="#1a1a1a" stroke-width="0.9"/>
<circle cx="579.5" cy="195" r="2.25" fill="none" stroke="#1a1a1a" stroke-width="0.9"/>
<circle cx="583" cy="199.7" r="2.25" fill="none" stroke="#1a1a1a" stroke-width="0.9"/>
<circle cx="580.1" cy="201.4" r="2.25" fill="none" stroke="#1a1a1a" stroke-width="0.9"/>
<circle cx="576.4" cy="203.1" r="2.25" fill="none" stroke="#1a1a1a" stroke-width="0.9"/>
<circle cx="585.3" cy="205.1" r="2.25" fill="none" stroke="#1a1a1a" stroke-width="0.9"/>
<circle cx="580.7" cy="204.9" r="2.25" fill="none" stroke="#1a1a1a" stroke-width="0.9"/>
<circle cx="570.6" cy="212.7" r="2.25" fill="none" stroke="#1a1a1a" stroke-width="0.9"/>
<circle cx="577.2" cy="212.7" r="2.25" fill="none" stroke="#1a1a1a" stroke-width="0.9"/>
<circle cx="581.2" cy="210.1" r="2.25" fill="none" stroke="#1a1a1a" stroke-width="0.9"/>
<circle cx="567.5" cy="216.5" r="2.25" fill="none" stroke="#1a1a1a" stroke-width="0.9"/>
<circle cx="571.5" cy="217" r="2.25" fill="none" stroke="#1a1a1a" stroke-width="0.9"/>
<circle cx="586.5" cy="216.5" r="2.25" fill="none" stroke="#1a1a1a" stroke-width="0.9"/>
<circle cx="586.5" cy="219.5" r="2.25" fill="none" stroke="#1a1a1a" stroke-width="0.9"/>
<circle cx="568" cy="220.5" r="2.25" fill="none" stroke="#1a1a1a" stroke-width="0.9"/>
<circle cx="576.5" cy="221" r="2.25" fill="none" stroke="#1a1a1a" stroke-width="0.9"/>
<circle cx="569" cy="230.5" r="2.25" fill="none" stroke="#1a1a1a" stroke-width="0.9"/>
<circle cx="580.5" cy="230.5" r="2.25" fill="none" stroke="#1a1a1a" stroke-width="0.9"/>
<circle cx="583" cy="231" r="2.25" fill="none" stroke="#1a1a1a" stroke-width="0.9"/>
<circle cx="574.5" cy="238.8" r="2.25" fill="none" stroke="#1a1a1a" stroke-width="0.9"/>
<circle cx="571" cy="249.8" r="2.25" fill="none" stroke="#1a1a1a" stroke-width="0.9"/>
<circle cx="573.5" cy="249" r="2.25" fill="none" stroke="#1a1a1a" stroke-width="0.9"/>
<circle cx="587" cy="254" r="2.25" fill="none" stroke="#1a1a1a" stroke-width="0.9"/>
<circle cx="569" cy="258.3" r="2.25" fill="none" stroke="#1a1a1a" stroke-width="0.9"/>
<circle cx="587.5" cy="264.7" r="2.25" fill="none" stroke="#1a1a1a" stroke-width="0.9"/>
<line x1="634.5" y1="146" x2="634.5" y2="167.8" stroke="#555" stroke-width="0.9" stroke-dasharray="2.6 2.6"/>
<line x1="634.5" y1="216.2" x2="634.5" y2="258.2" stroke="#555" stroke-width="0.9" stroke-dasharray="2.6 2.6"/>
<line x1="622.9" y1="146" x2="646.1" y2="146" stroke="#7a7a7a" stroke-width="1.3"/>
<line x1="622.9" y1="258.2" x2="646.1" y2="258.2" stroke="#7a7a7a" stroke-width="1.3"/>
<rect x="611.35" y="167.8" width="46.3" height="48.4" fill="#61d7fe" stroke="#3a3a3a" stroke-width="0.85"/>
<line x1="611.35" y1="186.5" x2="657.65" y2="186.5" stroke="#000" stroke-width="2.2"/>
<circle cx="623.1" cy="146" r="2.25" fill="none" stroke="#1a1a1a" stroke-width="0.9"/>
<circle cx="632.5" cy="146.3" r="2.25" fill="none" stroke="#1a1a1a" stroke-width="0.9"/>
<circle cx="636.5" cy="148" r="2.25" fill="none" stroke="#1a1a1a" stroke-width="0.9"/>
<circle cx="621.3" cy="154" r="2.25" fill="none" stroke="#1a1a1a" stroke-width="0.9"/>
<circle cx="633" cy="154.5" r="2.25" fill="none" stroke="#1a1a1a" stroke-width="0.9"/>
<circle cx="640.3" cy="156" r="2.25" fill="none" stroke="#1a1a1a" stroke-width="0.9"/>
<circle cx="633.5" cy="157.5" r="2.25" fill="none" stroke="#1a1a1a" stroke-width="0.9"/>
<circle cx="648.3" cy="162.8" r="2.25" fill="none" stroke="#1a1a1a" stroke-width="0.9"/>
<circle cx="634.5" cy="167.8" r="2.25" fill="none" stroke="#1a1a1a" stroke-width="0.9"/>
<circle cx="622.5" cy="173.4" r="2.25" fill="none" stroke="#1a1a1a" stroke-width="0.9"/>
<circle cx="633.3" cy="174.5" r="2.25" fill="none" stroke="#1a1a1a" stroke-width="0.9"/>
<circle cx="641.3" cy="181" r="2.25" fill="none" stroke="#1a1a1a" stroke-width="0.9"/>
<circle cx="628" cy="184" r="2.25" fill="none" stroke="#1a1a1a" stroke-width="0.9"/>
<circle cx="633.3" cy="184.3" r="2.25" fill="none" stroke="#1a1a1a" stroke-width="0.9"/>
<circle cx="637.6" cy="184.3" r="2.25" fill="none" stroke="#1a1a1a" stroke-width="0.9"/>
<circle cx="632.5" cy="187" r="2.25" fill="none" stroke="#1a1a1a" stroke-width="0.9"/>
<circle cx="646.5" cy="188.5" r="2.25" fill="none" stroke="#1a1a1a" stroke-width="0.9"/>
<circle cx="631" cy="193.8" r="2.25" fill="none" stroke="#1a1a1a" stroke-width="0.9"/>
<circle cx="644.2" cy="196" r="2.25" fill="none" stroke="#1a1a1a" stroke-width="0.9"/>
<circle cx="622" cy="199.5" r="2.25" fill="none" stroke="#1a1a1a" stroke-width="0.9"/>
<circle cx="627" cy="198.5" r="2.25" fill="none" stroke="#1a1a1a" stroke-width="0.9"/>
<circle cx="628" cy="202" r="2.25" fill="none" stroke="#1a1a1a" stroke-width="0.9"/>
<circle cx="625" cy="204" r="2.25" fill="none" stroke="#1a1a1a" stroke-width="0.9"/>
<circle cx="645.5" cy="215.5" r="2.25" fill="none" stroke="#1a1a1a" stroke-width="0.9"/>
<circle cx="647" cy="218" r="2.25" fill="none" stroke="#1a1a1a" stroke-width="0.9"/>
<circle cx="635.5" cy="226.5" r="2.25" fill="none" stroke="#1a1a1a" stroke-width="0.9"/>
<circle cx="636" cy="232" r="2.25" fill="none" stroke="#1a1a1a" stroke-width="0.9"/>
<circle cx="639" cy="232" r="2.25" fill="none" stroke="#1a1a1a" stroke-width="0.9"/>
<circle cx="642.5" cy="252" r="2.25" fill="none" stroke="#1a1a1a" stroke-width="0.9"/>
<circle cx="636" cy="258.2" r="2.25" fill="none" stroke="#1a1a1a" stroke-width="0.9"/>
<circle cx="626" cy="289.5" r="2.25" fill="none" stroke="#1a1a1a" stroke-width="0.9"/>
<circle cx="626.8" cy="330.8" r="2.25" fill="none" stroke="#1a1a1a" stroke-width="0.9"/>
<line x1="459.2" y1="114.6" x2="582.4" y2="114.6" stroke="#868686" stroke-width="2.4" stroke-dasharray="7.6 6.25" stroke-dashoffset="-1.8"/>
<polyline points="469,109.6 459.8,114.6 469,119.6" fill="none" stroke="#868686" stroke-width="2.4" stroke-linejoin="round" stroke-linecap="round"/>
<polyline points="572.6,109.6 581.8,114.6 572.6,119.6" fill="none" stroke="#868686" stroke-width="2.4" stroke-linejoin="round" stroke-linecap="round"/>
<text transform="translate(493.2,104.1) scale(1.02,1)" font-size="18.2" font-weight="normal" text-anchor="start" fill="#111">P=0.028</text>
<text transform="translate(24,502.8) scale(1,1.06)" font-size="26" font-weight="bold" fill="#000" textLength="160.5" lengthAdjust="spacingAndGlyphs">C. <tspan font-style="italic">Prevotella</tspan></text>
<rect x="68" y="515" width="259.5" height="307.2" fill="none" stroke="#858585" stroke-width="1.4" stroke-linejoin="round"/>
<line x1="61.7" y1="564.2" x2="68" y2="564.2" stroke="#808080" stroke-width="1.3"/>
<text transform="translate(55.2,572.5) scale(1.1,1)" font-size="23" font-weight="normal" text-anchor="end" fill="#111">12</text>
<line x1="61.7" y1="640" x2="68" y2="640" stroke="#808080" stroke-width="1.3"/>
<text transform="translate(55.2,648.3) scale(1.1,1)" font-size="23" font-weight="normal" text-anchor="end" fill="#111">10</text>
<line x1="61.7" y1="715.8" x2="68" y2="715.8" stroke="#808080" stroke-width="1.3"/>
<text transform="translate(55.2,724.1) scale(1.1,1)" font-size="23" font-weight="normal" text-anchor="end" fill="#111">8</text>
<line x1="61.7" y1="791.6" x2="68" y2="791.6" stroke="#808080" stroke-width="1.3"/>
<text transform="translate(55.2,799.9) scale(1.1,1)" font-size="23" font-weight="normal" text-anchor="end" fill="#111">6</text>
<text transform="translate(23.1,796.8) rotate(-90)" font-size="21.25" font-weight="bold" fill="#000">Log 10 (gene copies/g)</text>
<line x1="107.5" y1="822.2" x2="107.5" y2="828.3" stroke="#808080" stroke-width="1.3"/>
<line x1="167.5" y1="822.2" x2="167.5" y2="828.3" stroke="#808080" stroke-width="1.3"/>
<line x1="227.5" y1="822.2" x2="227.5" y2="828.3" stroke="#808080" stroke-width="1.3"/>
<line x1="287.5" y1="822.2" x2="287.5" y2="828.3" stroke="#808080" stroke-width="1.3"/>
<text transform="translate(105.6,848.8) scale(1.08,1)" font-size="23" font-weight="bold" text-anchor="middle" fill="#000">A</text>
<text transform="translate(168,848.8) scale(1.08,1)" font-size="23" font-weight="bold" text-anchor="middle" fill="#000">B</text>
<text transform="translate(225,848.8) scale(1.08,1)" font-size="23" font-weight="bold" text-anchor="middle" fill="#000">C</text>
<text transform="translate(288.9,848.8) scale(1.08,1)" font-size="23" font-weight="bold" text-anchor="middle" fill="#000">D</text>
<path d="M101.8,557.7 L113,557.7 C113.28,558.92 113.95,562.95 114.7,565 C115.45,567.05 116.33,568.33 117.5,570 C118.67,571.67 120.38,573.33 121.7,575 C123.02,576.67 124.28,578.33 125.4,580 C126.52,581.67 127.53,583.33 128.4,585 C129.27,586.67 130.1,588.33 130.6,590 C131.1,591.67 131.47,593.33 131.4,595 C131.33,596.67 131,598.33 130.2,600 C129.4,601.67 128.02,603.33 126.6,605 C125.18,606.67 123.22,608.33 121.7,610 C120.18,611.67 118.8,613.33 117.5,615 C116.2,616.67 114.8,618.33 113.9,620 C113,621.67 112.57,622.5 112.1,625 C111.63,627.5 111.37,631.67 111.1,635 C110.83,638.33 110.67,641.53 110.5,645 C110.33,648.47 110.17,654 110.1,655.8 L104.7,655.8 C104.63,654 104.47,648.47 104.3,645 C104.13,641.53 103.97,638.33 103.7,635 C103.43,631.67 103.17,627.5 102.7,625 C102.23,622.5 101.8,621.67 100.9,620 C100,618.33 98.6,616.67 97.3,615 C96,613.33 94.62,611.67 93.1,610 C91.58,608.33 89.62,606.67 88.2,605 C86.78,603.33 85.4,601.67 84.6,600 C83.8,598.33 83.47,596.67 83.4,595 C83.33,593.33 83.7,591.67 84.2,590 C84.7,588.33 85.53,586.67 86.4,585 C87.27,583.33 88.28,581.67 89.4,580 C90.52,578.33 91.78,576.67 93.1,575 C94.42,573.33 96.13,571.67 97.3,570 C98.47,568.33 99.35,567.05 100.1,565 C100.85,562.95 101.52,558.92 101.8,557.7 Z" fill="#9e29ff" stroke="#3a3a3a" stroke-width="0.9"/>
<line x1="107.4" y1="576.8" x2="107.4" y2="615.4" stroke="#1a1a1a" stroke-width="0.85"/>
<rect x="105.65" y="591" width="3.5" height="9.5" fill="#000"/>
<circle cx="107.4" cy="594.9" r="2.7" fill="#fff"/>
<path d="M151.8,553.2 L183.4,553.2 C184.35,555.42 187.72,561.37 189.1,566.5 C190.48,571.63 191.53,578.42 191.7,584 C191.87,589.58 190.87,594.83 190.1,600 C189.33,605.17 188.17,608.33 187.1,615 C186.03,621.67 184.92,631.97 183.7,640 C182.48,648.03 181.32,655.48 179.8,663.2 C178.28,670.92 175.97,679.55 174.6,686.3 C173.23,693.05 172.3,697.92 171.6,703.7 C170.9,709.48 170.62,715.22 170.4,721 C170.18,726.78 170.32,735.5 170.3,738.4 L164.9,738.4 C164.88,735.5 165.02,726.78 164.8,721 C164.58,715.22 164.3,709.48 163.6,703.7 C162.9,697.92 161.97,693.05 160.6,686.3 C159.23,679.55 156.92,670.92 155.4,663.2 C153.88,655.48 152.72,648.03 151.5,640 C150.28,631.97 149.17,621.67 148.1,615 C147.03,608.33 145.87,605.17 145.1,600 C144.33,594.83 143.33,589.58 143.5,584 C143.67,578.42 144.72,571.63 146.1,566.5 C147.48,561.37 150.85,555.42 151.8,553.2 Z" fill="#f07d52" stroke="#3a3a3a" stroke-width="0.9"/>
<line x1="167.6" y1="553.2" x2="167.6" y2="732.6" stroke="#1a1a1a" stroke-width="0.85"/>
<rect x="165.85" y="579.1" width="3.5" height="62.3" fill="#000"/>
<circle cx="167.6" cy="590.8" r="2.7" fill="#fff"/>
<path d="M211,558.1 L244.4,558.1 C245.12,560.95 247.45,568.55 248.7,575.2 C249.95,581.85 251.85,588.87 251.9,598 C251.95,607.13 250.15,621.37 249,630 C247.85,638.63 246.48,643.2 245,649.8 C243.52,656.4 241.7,662.98 240.1,669.6 C238.5,676.22 236.77,682.88 235.4,689.5 C234.03,696.12 232.75,703.88 231.9,709.3 C231.05,714.72 230.68,717.13 230.3,722 C229.92,726.87 229.77,731.7 229.6,738.5 C229.43,745.3 229.3,755.88 229.3,762.8 C229.3,769.72 229.47,774.75 229.6,780 C229.73,785.25 230.02,791.92 230.1,794.3 L225.3,794.3 C225.38,791.92 225.67,785.25 225.8,780 C225.93,774.75 226.1,769.72 226.1,762.8 C226.1,755.88 225.97,745.3 225.8,738.5 C225.63,731.7 225.48,726.87 225.1,722 C224.72,717.13 224.35,714.72 223.5,709.3 C222.65,703.88 221.37,696.12 220,689.5 C218.63,682.88 216.9,676.22 215.3,669.6 C213.7,662.98 211.88,656.4 210.4,649.8 C208.92,643.2 207.55,638.63 206.4,630 C205.25,621.37 203.45,607.13 203.5,598 C203.55,588.87 205.45,581.85 206.7,575.2 C207.95,568.55 210.28,560.95 211,558.1 Z" fill="#559b1f" stroke="#3a3a3a" stroke-width="0.9"/>
<line x1="227.7" y1="558.1" x2="227.7" y2="745.8" stroke="#1a1a1a" stroke-width="0.85"/>
<rect x="225.95" y="577.9" width="3.5" height="67.8" fill="#000"/>
<circle cx="227.7" cy="606.1" r="2.7" fill="#fff"/>
<path d="M279.9,572.9 L296.1,572.9 C296.73,574.32 298.48,577.42 299.9,581.4 C301.32,585.38 303,591.65 304.6,596.8 C306.2,601.95 308.28,607.67 309.5,612.3 C310.72,616.93 311.65,620.48 311.9,624.6 C312.15,628.72 311.6,632.63 311,637 C310.4,641.37 309.75,644.63 308.3,650.8 C306.85,656.97 303.85,667.57 302.3,674 C300.75,680.43 299.77,684.78 299,689.4 C298.23,694.02 297.92,699.65 297.7,701.7 L278.3,701.7 C278.08,699.65 277.77,694.02 277,689.4 C276.23,684.78 275.25,680.43 273.7,674 C272.15,667.57 269.15,656.97 267.7,650.8 C266.25,644.63 265.6,641.37 265,637 C264.4,632.63 263.85,628.72 264.1,624.6 C264.35,620.48 265.28,616.93 266.5,612.3 C267.72,607.67 269.8,601.95 271.4,596.8 C273,591.65 274.68,585.38 276.1,581.4 C277.52,577.42 279.27,574.32 279.9,572.9 Z" fill="#61d7fe" stroke="#3a3a3a" stroke-width="0.9"/>
<line x1="288" y1="572.9" x2="288" y2="701" stroke="#1a1a1a" stroke-width="0.85"/>
<rect x="286.25" y="618.1" width="3.5" height="47.3" fill="#000"/>
<circle cx="288" cy="630.5" r="2.7" fill="#fff"/>
<line x1="104.9" y1="768.6" x2="284.5" y2="768.6" stroke="#868686" stroke-width="2.0" stroke-dasharray="5.25 2.7" stroke-dashoffset="0"/>
<polyline points="114.4,763.6 105.5,768.6 114.4,773.6" fill="none" stroke="#868686" stroke-width="2.0" stroke-linejoin="round" stroke-linecap="round"/>
<polyline points="275,763.6 283.9,768.6 275,773.6" fill="none" stroke="#868686" stroke-width="2.0" stroke-linejoin="round" stroke-linecap="round"/>
<text transform="translate(131.2,760.8) scale(1.02,1)" font-size="18.2" font-weight="normal" text-anchor="start" fill="#111">P = 0.0044</text>
<text transform="translate(377.5,502) scale(1,1.07)" font-size="26" font-weight="bold" fill="#000" textLength="234.5" lengthAdjust="spacingAndGlyphs">D. <tspan font-style="italic">Bifidobacterium</tspan></text>
<rect x="423.1" y="516" width="258.3" height="305.5" fill="none" stroke="#858585" stroke-width="1.4" stroke-linejoin="round"/>
<line x1="416.8" y1="565.4" x2="423.1" y2="565.4" stroke="#808080" stroke-width="1.3"/>
<text transform="translate(410.3,573.7) scale(1.1,1)" font-size="23" font-weight="normal" text-anchor="end" fill="#111">12</text>
<line x1="416.8" y1="640.8" x2="423.1" y2="640.8" stroke="#808080" stroke-width="1.3"/>
<text transform="translate(410.3,649.1) scale(1.1,1)" font-size="23" font-weight="normal" text-anchor="end" fill="#111">10</text>
<line x1="416.8" y1="716.2" x2="423.1" y2="716.2" stroke="#808080" stroke-width="1.3"/>
<text transform="translate(410.3,724.5) scale(1.1,1)" font-size="23" font-weight="normal" text-anchor="end" fill="#111">8</text>
<line x1="416.8" y1="791.6" x2="423.1" y2="791.6" stroke="#808080" stroke-width="1.3"/>
<text transform="translate(410.3,799.9) scale(1.1,1)" font-size="23" font-weight="normal" text-anchor="end" fill="#111">6</text>
<text transform="translate(376.6,803.2) rotate(-90)" font-size="21" font-weight="bold" fill="#000">Log 10 (gene copies/g)</text>
<line x1="462.4" y1="821.6" x2="462.4" y2="826.6" stroke="#808080" stroke-width="1.3"/>
<line x1="521.9" y1="821.6" x2="521.9" y2="826.6" stroke="#808080" stroke-width="1.3"/>
<line x1="581.8" y1="821.6" x2="581.8" y2="826.6" stroke="#808080" stroke-width="1.3"/>
<line x1="641.3" y1="821.6" x2="641.3" y2="826.6" stroke="#808080" stroke-width="1.3"/>
<text transform="translate(465.7,851) scale(1.08,1)" font-size="22.5" font-weight="bold" text-anchor="middle" fill="#000">A</text>
<text transform="translate(522.7,851) scale(1.08,1)" font-size="22.5" font-weight="bold" text-anchor="middle" fill="#000">B</text>
<text transform="translate(585.5,851) scale(1.08,1)" font-size="22.5" font-weight="bold" text-anchor="middle" fill="#000">C</text>
<text transform="translate(643.1,851) scale(1.08,1)" font-size="22.5" font-weight="bold" text-anchor="middle" fill="#000">D</text>
<path d="M452.3,601.8 L472.3,601.8 C473.72,605.12 478.97,615.45 480.8,621.7 C482.63,627.95 482.35,631.67 483.3,639.3 C484.25,646.93 486.43,660.17 486.5,667.5 C486.57,674.83 485.32,677.72 483.7,683.3 C482.08,688.88 478.7,696.38 476.8,701 C474.9,705.62 473.05,709.33 472.3,711 L452.3,711 C451.55,709.33 449.7,705.62 447.8,701 C445.9,696.38 442.52,688.88 440.9,683.3 C439.28,677.72 438.03,674.83 438.1,667.5 C438.17,660.17 440.35,646.93 441.3,639.3 C442.25,631.67 441.97,627.95 443.8,621.7 C445.63,615.45 450.88,605.12 452.3,601.8 Z" fill="#9e29ff" stroke="#3a3a3a" stroke-width="0.9"/>
<line x1="462.3" y1="601.8" x2="462.3" y2="711" stroke="#1a1a1a" stroke-width="0.85"/>
<rect x="460.55" y="626.6" width="3.5" height="49.7" fill="#000"/>
<circle cx="462.3" cy="660.8" r="2.7" fill="#fff"/>
<path d="M504.9,600.3 L539.5,600.3 C540.28,602.25 543.07,608.05 544.2,612 C545.33,615.95 546.67,618.73 546.3,624 C545.93,629.27 543.53,637.6 542,643.6 C540.47,649.6 538.88,654.5 537.1,660 C535.32,665.5 532.95,671.07 531.3,676.6 C529.65,682.13 528,687.07 527.2,693.2 C526.4,699.33 526.72,705.95 526.5,713.4 C526.28,720.85 526,733.82 525.9,737.9 L518.5,737.9 C518.4,733.82 518.12,720.85 517.9,713.4 C517.68,705.95 518,699.33 517.2,693.2 C516.4,687.07 514.75,682.13 513.1,676.6 C511.45,671.07 509.08,665.5 507.3,660 C505.52,654.5 503.93,649.6 502.4,643.6 C500.87,637.6 498.47,629.27 498.1,624 C497.73,618.73 499.07,615.95 500.2,612 C501.33,608.05 504.12,602.25 504.9,600.3 Z" fill="#f07d52" stroke="#3a3a3a" stroke-width="0.9"/>
<line x1="522.2" y1="600.2" x2="522.2" y2="720.4" stroke="#1a1a1a" stroke-width="0.85"/>
<rect x="520.45" y="618.1" width="3.5" height="41.5" fill="#000"/>
<circle cx="522.2" cy="629.1" r="2.7" fill="#fff"/>
<path d="M572.4,560.6 L591.4,560.6 C593.02,564.5 598.68,575.1 601.1,584 C603.52,592.9 605.88,604.67 605.9,614 C605.92,623.33 603.13,632.37 601.2,640 C599.27,647.63 596.4,653.2 594.3,659.8 C592.2,666.4 590.07,673.82 588.6,679.6 C587.13,685.38 586.3,689.53 585.5,694.5 C584.7,699.47 584.18,703.95 583.8,709.4 C583.42,714.85 583.3,720.43 583.2,727.2 C583.1,733.97 583.15,742.87 583.2,750 C583.25,757.13 583.38,764.3 583.5,770 C583.62,775.7 583.83,781.83 583.9,784.2 L579.9,784.2 C579.97,781.83 580.18,775.7 580.3,770 C580.42,764.3 580.55,757.13 580.6,750 C580.65,742.87 580.7,733.97 580.6,727.2 C580.5,720.43 580.38,714.85 580,709.4 C579.62,703.95 579.1,699.47 578.3,694.5 C577.5,689.53 576.67,685.38 575.2,679.6 C573.73,673.82 571.6,666.4 569.5,659.8 C567.4,653.2 564.53,647.63 562.6,640 C560.67,632.37 557.88,623.33 557.9,614 C557.92,604.67 560.28,592.9 562.7,584 C565.12,575.1 570.78,564.5 572.4,560.6 Z" fill="#559b1f" stroke="#3a3a3a" stroke-width="0.9"/>
<line x1="581.9" y1="560.6" x2="581.9" y2="695.5" stroke="#1a1a1a" stroke-width="0.85"/>
<rect x="580.15" y="601.3" width="3.5" height="38.3" fill="#000"/>
<circle cx="581.9" cy="614.9" r="2.7" fill="#fff"/>
<path d="M626.3,572.3 L657.1,572.3 C657.88,573.37 660.57,576.58 661.8,578.7 C663.03,580.82 663.83,582.45 664.5,585 C665.17,587.55 666.02,590.83 665.8,594 C665.58,597.17 664.47,600.2 663.2,604 C661.93,607.8 660.2,611.5 658.2,616.8 C656.2,622.1 652.95,629.47 651.2,635.8 C649.45,642.13 648.45,649.93 647.7,654.8 C646.95,659.67 646.95,661.42 646.7,665 C646.45,668.58 646.28,674.42 646.2,676.3 L637.2,676.3 C637.12,674.42 636.95,668.58 636.7,665 C636.45,661.42 636.45,659.67 635.7,654.8 C634.95,649.93 633.95,642.13 632.2,635.8 C630.45,629.47 627.2,622.1 625.2,616.8 C623.2,611.5 621.47,607.8 620.2,604 C618.93,600.2 617.82,597.17 617.6,594 C617.38,590.83 618.23,587.55 618.9,585 C619.57,582.45 620.37,580.82 621.6,578.7 C622.83,576.58 625.52,573.37 626.3,572.3 Z" fill="#61d7fe" stroke="#3a3a3a" stroke-width="0.9"/>
<line x1="641.7" y1="572.3" x2="641.7" y2="656" stroke="#1a1a1a" stroke-width="0.85"/>
<rect x="639.95" y="590.3" width="3.5" height="26.1" fill="#000"/>
<circle cx="641.7" cy="600.2" r="2.7" fill="#fff"/>
<line x1="468" y1="750.1" x2="581.4" y2="750.1" stroke="#868686" stroke-width="2.0" stroke-dasharray="5 2.9" stroke-dashoffset="0"/>
<polyline points="478,745.1 468.6,750.1 478,755.1" fill="none" stroke="#868686" stroke-width="2.0" stroke-linejoin="round" stroke-linecap="round"/>
<polyline points="571.4,745.1 580.8,750.1 571.4,755.1" fill="none" stroke="#868686" stroke-width="2.0" stroke-linejoin="round" stroke-linecap="round"/>
<line x1="518.6" y1="772.7" x2="641.1" y2="772.7" stroke="#868686" stroke-width="2.0" stroke-dasharray="5 2.9" stroke-dashoffset="0"/>
<polyline points="528.6,767.7 519.2,772.7 528.6,777.7" fill="none" stroke="#868686" stroke-width="2.0" stroke-linejoin="round" stroke-linecap="round"/>
<polyline points="631.1,767.7 640.5,772.7 631.1,777.7" fill="none" stroke="#868686" stroke-width="2.0" stroke-linejoin="round" stroke-linecap="round"/>
<line x1="461.4" y1="798.5" x2="648.3" y2="798.5" stroke="#868686" stroke-width="2.0" stroke-dasharray="5 2.9" stroke-dashoffset="0"/>
<polyline points="471.4,793.5 462,798.5 471.4,803.5" fill="none" stroke="#868686" stroke-width="2.0" stroke-linejoin="round" stroke-linecap="round"/>
<polyline points="638.3,793.5 647.7,798.5 638.3,803.5" fill="none" stroke="#868686" stroke-width="2.0" stroke-linejoin="round" stroke-linecap="round"/>
<text transform="translate(426.4,742.2) scale(1.025,1)" font-size="18.2" font-weight="normal" text-anchor="start" fill="#111">P = 0.0035</text>
<text transform="translate(584.4,766.9) scale(1.025,1)" font-size="18.2" font-weight="normal" text-anchor="start" fill="#111">P = 0.0138</text>
<text transform="translate(458.5,795.6) scale(1.025,1)" font-size="18.2" font-weight="normal" text-anchor="start" fill="#111">P = 0.0004</text>
<rect x="32.8" y="877.7" width="21.2" height="18.3" fill="#a514fa" stroke="#2a3c52" stroke-width="1.4"/>
<text transform="translate(62.5,895.8) scale(1,1.09)" font-size="21" font-weight="bold" fill="#000">Group A</text>
<rect x="184" y="879.8" width="21.2" height="18.2" fill="#f4691f" stroke="#2a3c52" stroke-width="1.4"/>
<text transform="translate(213,897) scale(1,1.09)" font-size="21" font-weight="bold" fill="#000">Group B</text>
<rect x="342.8" y="879.7" width="20.5" height="18.3" fill="#4ea93a" stroke="#2a3c52" stroke-width="1.4"/>
<text transform="translate(370.5,896.5) scale(1,1.09)" font-size="21" font-weight="bold" fill="#000">Group C</text>
<rect x="489.2" y="879.6" width="20.8" height="18.4" fill="#5ac3f5" stroke="#2a3c52" stroke-width="1.4"/>
<text transform="translate(517,897) scale(1,1.09)" font-size="21" font-weight="bold" fill="#000">Group D</text>
</svg></body></html>
